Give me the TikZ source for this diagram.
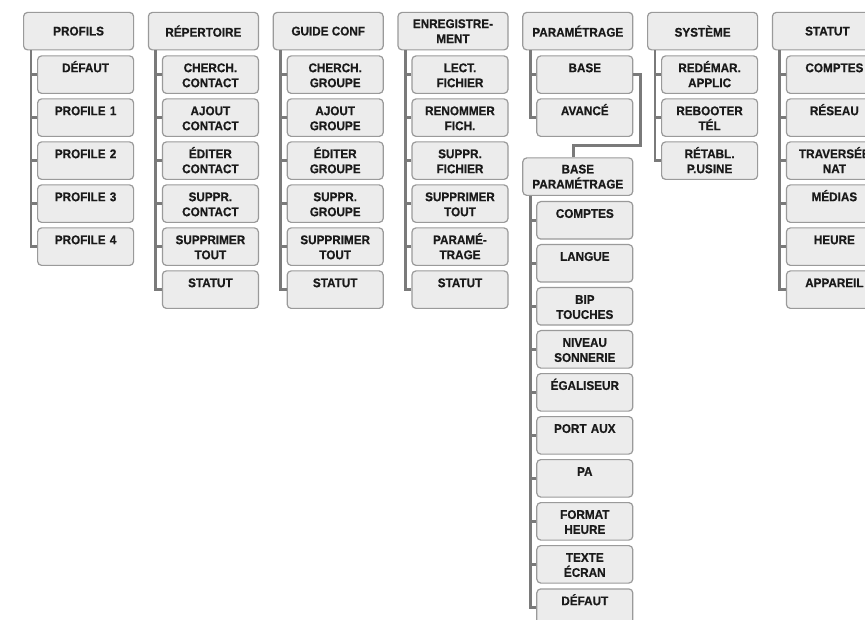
\documentclass[tikz,border=0pt]{standalone}
\usepackage{fontspec}
\setmainfont{Liberation Sans}[FakeStretch=0.93,FakeBold=0.6]
\definecolor{boxfill}{HTML}{ECECEC}
\definecolor{boxline}{HTML}{9A9A9A}
\definecolor{linecol}{HTML}{7A7A7A}
\definecolor{txt}{HTML}{1A1A1A}
\tikzset{
  topbox/.style={draw=boxline, fill=boxfill, rounded corners=4pt, line width=1.2pt,
    minimum width=110pt, minimum height=37.5pt, inner sep=0pt, align=center,
    anchor=north west, text=txt, font=\bfseries\fontsize{12.6}{15}\selectfont},
  subbox/.style={draw=boxline, fill=boxfill, rounded corners=4pt, line width=1.2pt,
    text width=96pt, align=center, inner xsep=0pt, inner ysep=0pt,
    text height=16.3pt, text depth=21.2pt, anchor=north west, text=txt,
    font=\bfseries\fontsize{12.6}{15}\selectfont},
  trunk/.style={draw=linecol, line width=2.9pt},
}
\begin{document}
\begin{tikzpicture}[x=1pt,y=-1pt]
\useasboundingbox (0,0) rectangle (865,620);
\clip (0,0) rectangle (865,620);
% ---- column 0: PROFILS
\node[topbox] (a) at (23,11.8) {PROFILS};
\node[subbox] (a1) at (37,55.3) {DÉFAUT};
\node[subbox] (a2) at (37,98.3) {PROFILE 1};
\node[subbox] (a3) at (37,141.3) {PROFILE 2};
\node[subbox] (a4) at (37,184.3) {PROFILE 3};
\node[subbox] (a5) at (37,227.3) {PROFILE 4};
% ---- column 1: REPERTOIRE
\node[topbox] (b) at (147.8,11.8) {RÉPERTOIRE};
\node[subbox] (b1) at (161.8,55.3) {CHERCH.\\CONTACT};
\node[subbox] (b2) at (161.8,98.3) {AJOUT\\CONTACT};
\node[subbox] (b3) at (161.8,141.3) {ÉDITER\\CONTACT};
\node[subbox] (b4) at (161.8,184.3) {SUPPR.\\CONTACT};
\node[subbox] (b5) at (161.8,227.3) {SUPPRIMER\\TOUT};
\node[subbox] (b6) at (161.8,270.3) {STATUT};
% ---- column 2: GUIDE CONF
\node[topbox] (c) at (272.6,11.8) {GUIDE CONF};
\node[subbox] (c1) at (286.6,55.3) {CHERCH.\\GROUPE};
\node[subbox] (c2) at (286.6,98.3) {AJOUT\\GROUPE};
\node[subbox] (c3) at (286.6,141.3) {ÉDITER\\GROUPE};
\node[subbox] (c4) at (286.6,184.3) {SUPPR.\\GROUPE};
\node[subbox] (c5) at (286.6,227.3) {SUPPRIMER\\TOUT};
\node[subbox] (c6) at (286.6,270.3) {STATUT};
% ---- column 3: ENREGISTREMENT
\node[topbox] (d) at (397.4,11.8) {ENREGISTRE-\\MENT};
\node[subbox] (d1) at (411.4,55.3) {LECT.\\FICHIER};
\node[subbox] (d2) at (411.4,98.3) {RENOMMER\\FICH.};
\node[subbox] (d3) at (411.4,141.3) {SUPPR.\\FICHIER};
\node[subbox] (d4) at (411.4,184.3) {SUPPRIMER\\TOUT};
\node[subbox] (d5) at (411.4,227.3) {PARAMÉ-\\TRAGE};
\node[subbox] (d6) at (411.4,270.3) {STATUT};
% ---- column 4: PARAMETRAGE
\node[topbox] (e) at (522.2,11.8) {PARAMÉTRAGE};
\node[subbox] (e1) at (536.2,55.3) {BASE};
\node[subbox] (e2) at (536.2,98.3) {AVANCÉ};
\node[topbox] (f) at (522.2,157.3) {BASE\\PARAMÉTRAGE};
\node[subbox] (f1) at (536.2,201) {COMPTES};
\node[subbox] (f2) at (536.2,244) {LANGUE};
\node[subbox] (f3) at (536.2,287) {BIP\\TOUCHES};
\node[subbox] (f4) at (536.2,330) {NIVEAU\\SONNERIE};
\node[subbox] (f5) at (536.2,373) {ÉGALISEUR};
\node[subbox] (f6) at (536.2,416) {PORT AUX};
\node[subbox] (f7) at (536.2,459) {PA};
\node[subbox] (f8) at (536.2,502) {FORMAT\\HEURE};
\node[subbox] (f9) at (536.2,545) {TEXTE\\ÉCRAN};
\node[subbox] (f10) at (536.2,588.3) {DÉFAUT};
% ---- column 5: SYSTEME
\node[topbox] (g) at (647,11.8) {SYSTÈME};
\node[subbox] (g1) at (661,55.3) {REDÉMAR.\\APPLIC};
\node[subbox] (g2) at (661,98.3) {REBOOTER\\TÉL};
\node[subbox] (g3) at (661,141.3) {RÉTABL.\\P.USINE};
% ---- column 6: STATUT
\node[topbox] (h) at (771.8,11.8) {STATUT};
\node[subbox] (h1) at (785.8,55.3) {COMPTES};
\node[subbox] (h2) at (785.8,98.3) {RÉSEAU};
\node[subbox] (h3) at (785.8,141.3) {TRAVERSÉE\\NAT};
\node[subbox] (h4) at (785.8,184.3) {MÉDIAS};
\node[subbox] (h5) at (785.8,227.3) {HEURE};
\node[subbox] (h6) at (785.8,270.3) {APPAREIL};
% ---- trunks
\foreach \p/\last/\kids in {a/a5/{a1,a2,a3,a4},b/b6/{b1,b2,b3,b4,b5},c/c6/{c1,c2,c3,c4,c5},
    d/d6/{d1,d2,d3,d4,d5},e/e2/{e1},f/f10/{f1,f2,f3,f4,f5,f6,f7,f8,f9},g/g3/{g1,g2},h/h6/{h1,h2,h3,h4,h5}}{
  \coordinate (\p t) at ([xshift=8pt]\p.south west);
  \draw[trunk] (\p t) |- (\last.west);
  \foreach \k in \kids {\draw[trunk] (\p t |- \k.west) -- (\k.west);}
}
% ---- BASE -> BASE PARAMETRAGE
\coordinate (bk) at ([xshift=7pt]e1.east);
\coordinate (bin) at ([xshift=-4pt]f.north);
\draw[trunk] (e1.east) -- (bk) |- ([yshift=12pt]bin) -- (bin);
\end{tikzpicture}
\end{document}
